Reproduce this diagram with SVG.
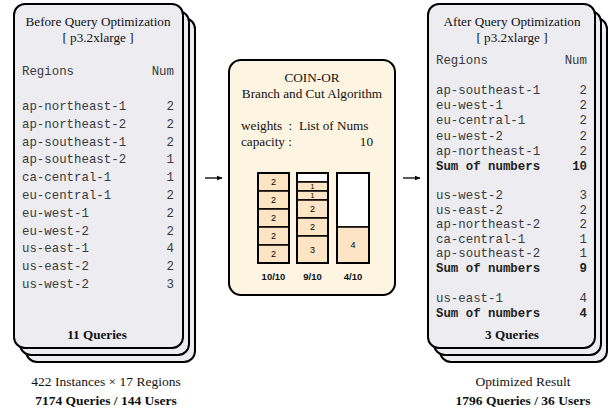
<svg xmlns="http://www.w3.org/2000/svg" width="613" height="411" viewBox="0 0 613 411">
<style>
.card{fill:#ECECF1;stroke:#000;stroke-width:2}
.mid{fill:#FEF4E2;stroke:#000;stroke-width:2}
.serif{font-family:"Liberation Serif","Times New Roman",serif;font-size:13.2px;fill:#111}
.cap{font-size:13.5px}
.b{font-weight:bold}
.mono{font-family:"Liberation Mono","Courier New",monospace;font-size:12.4px;fill:#3a3a3a}
.mb{font-family:"Liberation Mono","Courier New",monospace;font-size:12.4px;font-weight:bold;fill:#222}
.blk{fill:#FDE4C4;stroke:#000;stroke-width:1.5}
.emp{fill:#fff;stroke:#000;stroke-width:1.5}
.bin{fill:none;stroke:#000;stroke-width:2}
.bn{font-family:"Liberation Sans",Arial,sans-serif;font-size:9px;fill:#000;text-anchor:middle}
.bs{font-family:"Liberation Sans",Arial,sans-serif;font-size:7px;fill:#000;text-anchor:middle}
.bl{font-family:"Liberation Sans",Arial,sans-serif;font-size:9.5px;font-weight:bold;fill:#111;text-anchor:middle}
.mid-t{text-anchor:middle}
.end{text-anchor:end}
.conn{stroke:#000;stroke-width:1.3;fill:none}
</style>
<defs>
<marker id="ah" viewBox="0 0 10 10" refX="9" refY="5" markerWidth="6" markerHeight="6" orient="auto" markerUnits="userSpaceOnUse">
<path d="M0,1 L10,5 L0,9 Z" fill="#000"/>
</marker>
</defs>

<g id="before">
<rect class="card" x="26" y="18" width="169" height="344" rx="11"/>
<rect class="card" x="20" y="11" width="169" height="344" rx="11"/>
<rect class="card" x="14" y="4" width="169" height="344" rx="11"/>
<text class="serif mid-t" x="98" y="26">Before Query Optimization</text>
<text class="serif mid-t" x="98" y="42">[ p3.2xlarge ]</text>
<text class="mono" x="22" y="75">Regions</text>
<text class="mono end" x="174" y="75">Num</text>
<g class="mono">
<text x="22" y="110">ap-northeast-1</text>
<text x="22" y="127.8">ap-northeast-2</text>
<text x="22" y="145.6">ap-southeast-1</text>
<text x="22" y="163.4">ap-southeast-2</text>
<text x="22" y="181.2">ca-central-1</text>
<text x="22" y="199">eu-central-1</text>
<text x="22" y="216.8">eu-west-1</text>
<text x="22" y="234.6">eu-west-2</text>
<text x="22" y="252.4">us-east-1</text>
<text x="22" y="270.2">us-east-2</text>
<text x="22" y="288">us-west-2</text>
</g>
<g class="mono end">
<text x="174" y="110">2</text>
<text x="174" y="127.8">2</text>
<text x="174" y="145.6">2</text>
<text x="174" y="163.4">1</text>
<text x="174" y="181.2">1</text>
<text x="174" y="199">2</text>
<text x="174" y="216.8">2</text>
<text x="174" y="234.6">2</text>
<text x="174" y="252.4">4</text>
<text x="174" y="270.2">2</text>
<text x="174" y="288">3</text>
</g>
<text class="serif b mid-t" x="97" y="339">11 Queries</text>
<text class="serif cap mid-t" x="106" y="386">422 Instances × 17 Regions</text>
<text class="serif cap b mid-t" x="106" y="405">7174 Queries / 144 Users</text>
</g>

<g id="algorithm">
<rect class="mid" x="229" y="60" width="166" height="235" rx="12"/>
<text class="serif mid-t" x="312" y="82">COIN-OR</text>
<text class="serif mid-t" x="312" y="98">Branch and Cut Algorithm</text>
<text class="serif" x="241" y="130" xml:space="preserve">weights  :  List of Nums</text>
<text class="serif" x="241" y="146">capacity :</text>
<text class="serif end" x="373" y="146">10</text>
<g id="bin1">
<rect class="blk" x="258" y="173" width="31" height="18"/>
<rect class="blk" x="258" y="191" width="31" height="18"/>
<rect class="blk" x="258" y="209" width="31" height="18"/>
<rect class="blk" x="258" y="227" width="31" height="18"/>
<rect class="blk" x="258" y="245" width="31" height="18"/>
<rect class="bin" x="258" y="173" width="31" height="90"/>
<text class="bn" x="273.5" y="185.2">2</text>
<text class="bn" x="273.5" y="203.2">2</text>
<text class="bn" x="273.5" y="221.2">2</text>
<text class="bn" x="273.5" y="239.2">2</text>
<text class="bn" x="273.5" y="257.2">2</text>
</g>
<g id="bin2">
<rect class="emp" x="297" y="173" width="31" height="9"/>
<rect class="blk" x="297" y="182" width="31" height="9"/>
<rect class="blk" x="297" y="191" width="31" height="9"/>
<rect class="blk" x="297" y="200" width="31" height="18"/>
<rect class="blk" x="297" y="218" width="31" height="18"/>
<rect class="blk" x="297" y="236" width="31" height="27"/>
<rect class="bin" x="297" y="173" width="31" height="90"/>
<text class="bs" x="312.5" y="189">1</text>
<text class="bs" x="312.5" y="198">1</text>
<text class="bn" x="312.5" y="212.2">2</text>
<text class="bn" x="312.5" y="230.2">2</text>
<text class="bn" x="312.5" y="252.7">3</text>
</g>
<g id="bin3">
<rect class="emp" x="337" y="173" width="32" height="54"/>
<rect class="blk" x="337" y="227" width="32" height="36"/>
<rect class="bin" x="337" y="173" width="32" height="90"/>
<text class="bn" x="353" y="248.2">4</text>
</g>
<text class="bl" x="273.5" y="280">10/10</text>
<text class="bl" x="312.5" y="280">9/10</text>
<text class="bl" x="353" y="280">4/10</text>
</g>

<g id="after">
<rect class="card" x="440" y="18" width="167" height="344" rx="11"/>
<rect class="card" x="434" y="11" width="167" height="344" rx="11"/>
<rect class="card" x="428" y="4" width="167" height="344" rx="11"/>
<text class="serif mid-t" x="512" y="26">After Query Optimization</text>
<text class="serif mid-t" x="512" y="42">[ p3.2xlarge ]</text>
<text class="mono" x="436" y="64">Regions</text>
<text class="mono end" x="587" y="64">Num</text>
<g class="mono">
<text x="436" y="94">ap-southeast-1</text>
<text x="436" y="109.2">eu-west-1</text>
<text x="436" y="124.4">eu-central-1</text>
<text x="436" y="139.6">eu-west-2</text>
<text x="436" y="154.8">ap-northeast-1</text>
<text x="436" y="199">us-west-2</text>
<text x="436" y="213.6">us-east-2</text>
<text x="436" y="228.2">ap-northeast-2</text>
<text x="436" y="242.8">ca-central-1</text>
<text x="436" y="257.4">ap-southeast-2</text>
<text x="436" y="302">us-east-1</text>
</g>
<g class="mono end">
<text x="587" y="94">2</text>
<text x="587" y="109.2">2</text>
<text x="587" y="124.4">2</text>
<text x="587" y="139.6">2</text>
<text x="587" y="154.8">2</text>
<text x="587" y="199">3</text>
<text x="587" y="213.6">2</text>
<text x="587" y="228.2">2</text>
<text x="587" y="242.8">1</text>
<text x="587" y="257.4">1</text>
<text x="587" y="302">4</text>
</g>
<text class="mb" x="436" y="170">Sum of numbers</text>
<text class="mb end" x="587" y="170">10</text>
<text class="mb" x="436" y="272">Sum of numbers</text>
<text class="mb end" x="587" y="272">9</text>
<text class="mb" x="436" y="317">Sum of numbers</text>
<text class="mb end" x="587" y="317">4</text>
<text class="serif b mid-t" x="512" y="339">3 Queries</text>
<text class="serif cap mid-t" x="523" y="386">Optimized Result</text>
<text class="serif cap b mid-t" x="523" y="405">1796 Queries / 36 Users</text>
</g>

<g id="connectors">
<line class="conn" x1="205" y1="178" x2="222" y2="178" marker-end="url(#ah)"/>
<line class="conn" x1="403" y1="178" x2="420" y2="178" marker-end="url(#ah)"/>
</g>
</svg>
